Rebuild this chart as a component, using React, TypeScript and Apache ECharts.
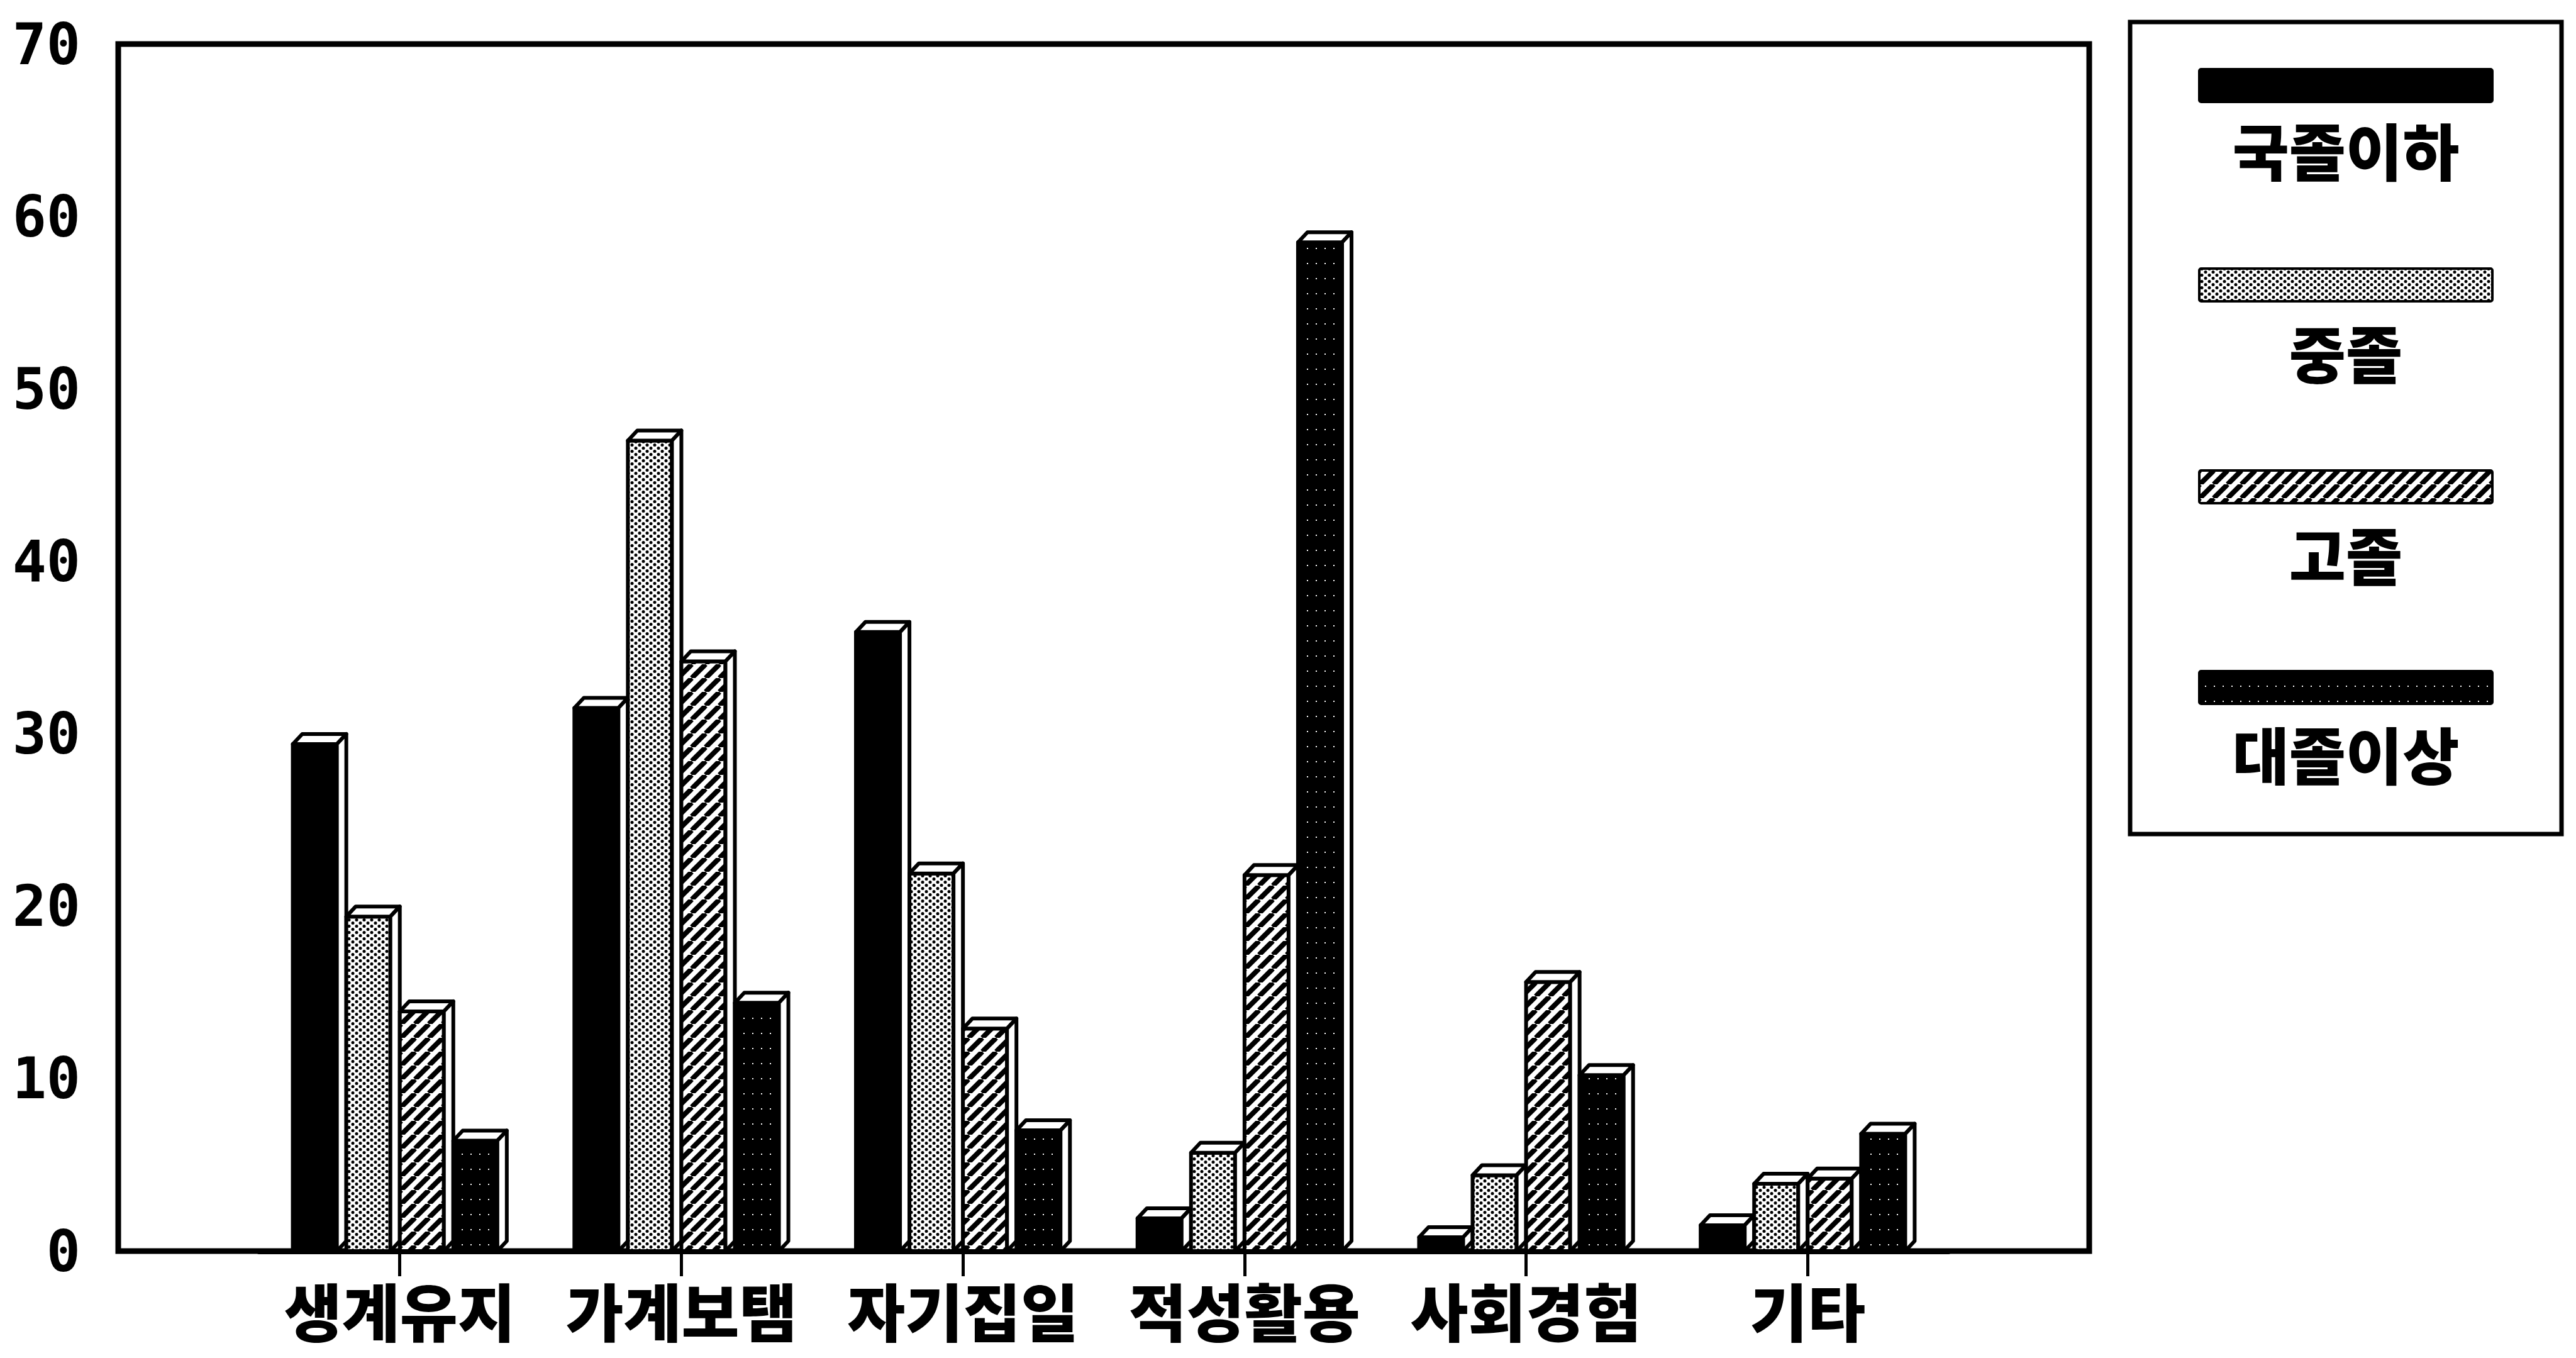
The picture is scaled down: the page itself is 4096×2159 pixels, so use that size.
import React, { useEffect, useRef } from "react";
import * as echarts from "echarts";

// Reasons for working, by education level (%)
const categories = ["생계유지", "가계보탬", "자기집일", "적성활용", "사회경험", "기타"];
const seriesNames = ["국졸이하", "중졸", "고졸", "대졸이상"];
const elementaryOrLess = [29.4, 31.5, 35.9, 1.9, 0.8, 1.5];
const middleSchool = [19.4, 47.0, 21.9, 5.7, 4.4, 3.9];
const highSchool = [13.9, 34.2, 12.9, 21.8, 15.6, 4.2];
const collegeOrMore = [6.4, 14.4, 7.0, 58.5, 10.2, 6.8];
const seriesValues = [elementaryOrLess, middleSchool, highSchool, collegeOrMore];

const yMin = 0;
const yMax = 70;
const yInterval = 10;

const W = 4096;
const H = 2159;

// 3D bar extrusion (pixels)
const DX = 15;
const DY = 16;
const LW = 6;

type Fill = any;

function makeTile(w: number, h: number, draw: (ctx: CanvasRenderingContext2D) => void): Fill {
  const c = document.createElement("canvas");
  c.width = w;
  c.height = h;
  const ctx = c.getContext("2d")!;
  draw(ctx);
  return { image: c.toDataURL(), repeat: "repeat", imageWidth: w, imageHeight: h };
}

function makeFills(): Fill[] {
  const solid = "#000";
  const dots = makeTile(12, 10, (ctx) => {
    ctx.fillStyle = "#fff";
    ctx.fillRect(0, 0, 12, 10);
    ctx.fillStyle = "#000";
    ctx.beginPath();
    ctx.arc(3, 2.5, 2.5, 0, Math.PI * 2);
    ctx.fill();
    ctx.beginPath();
    ctx.arc(9, 7.5, 2.5, 0, Math.PI * 2);
    ctx.fill();
  });
  const hatch = makeTile(22, 22, (ctx) => {
    ctx.fillStyle = "#fff";
    ctx.fillRect(0, 0, 22, 22);
    ctx.strokeStyle = "#000";
    ctx.lineWidth = 8;
    for (const k of [-22, 0, 22]) {
      ctx.beginPath();
      ctx.moveTo(k, 22);
      ctx.lineTo(k + 22, 0);
      ctx.stroke();
    }
  });
  const dark = makeTile(14, 24, (ctx) => {
    ctx.fillStyle = "#000";
    ctx.fillRect(0, 0, 14, 24);
    ctx.fillStyle = "#fff";
    ctx.fillRect(6, 10, 2, 2);
  });
  return [solid, dots, hatch, dark];
}

function makeRenderItem(seriesIdx: number, fill: Fill) {
  return (params: any, api: any) => {
    const cat = api.value(0);
    const val = api.value(1);
    const base = api.coord([cat, 0]);
    const top = api.coord([cat, val]);
    const band = api.size([1, 0])[0];
    const groupW = band * 0.76;
    const pitch = groupW / 4;
    const front = pitch - DX;
    const x0 = base[0] - groupW / 2 + seriesIdx * pitch;
    const x1 = x0 + front;
    const yT = top[1];
    const yB = base[1];
    const edge = { stroke: "#000", lineWidth: LW, lineJoin: "round" };
    return {
      type: "group",
      children: [
        {
          type: "rect",
          shape: { x: x0, y: yT, width: front, height: yB - yT },
          style: { fill, ...edge },
        },
        {
          type: "polygon",
          shape: { points: [[x0, yT], [x0 + DX, yT - DY], [x1 + DX, yT - DY], [x1, yT]] },
          style: { fill: "#fff", ...edge },
        },
        {
          type: "polygon",
          shape: { points: [[x1, yT], [x1 + DX, yT - DY], [x1 + DX, yB - DY], [x1, yB]] },
          style: { fill: "#fff", ...edge },
        },
      ],
    };
  };
}

const koreanFont = "'Noto Sans CJK KR', 'Noto Sans CJK SC', sans-serif";

export default function App() {
  const ref = useRef<HTMLDivElement>(null);

  useEffect(() => {
    document.body.style.margin = "0";
    if (!ref.current) return;
    const chart = echarts.init(ref.current, undefined, { renderer: "svg" });
    const fills = makeFills();

    // Frame and bar area geometry
    const frameLeft = 188;
    const frameRight = 3322;
    const frameTop = 70;
    const frameBottom = 1989;
    const band = (frameRight - frameLeft) / (categories.length + 1);
    const barLeft = frameLeft + band / 2;
    const barRight = frameRight - band / 2;

    // Legend box
    const legX = 3387;
    const legY = 35;
    const legW = 686;
    const legH = 1291;
    const swX = 3497;
    const swW = 466;
    const swH = 52;
    const swTops = [110, 427, 748, 1067];
    const labelYs = [236, 558, 879, 1196];

    const legendChildren: any[] = [
      {
        type: "rect",
        shape: { x: legX, y: legY, width: legW, height: legH },
        style: { fill: "#fff", stroke: "#000", lineWidth: 7 },
      },
    ];
    seriesNames.forEach((name, i) => {
      legendChildren.push({
        type: "rect",
        shape: { x: swX, y: swTops[i], width: swW, height: swH, r: 3 },
        style: { fill: fills[i], stroke: "#000", lineWidth: 4 },
      });
      legendChildren.push({
        type: "text",
        x: swX + swW / 2,
        y: labelYs[i],
        style: {
          text: name,
          fill: "#000",
          font: `900 98px ${koreanFont}`,
          textAlign: "center",
          textVerticalAlign: "middle",
        },
      });
    });

    chart.setOption({
      animation: false,
      backgroundColor: "#fff",
      grid: [
        {
          left: frameLeft,
          right: W - frameRight,
          top: frameTop,
          bottom: H - frameBottom,
          show: true,
          borderColor: "#000",
          borderWidth: 9,
          backgroundColor: "transparent",
        },
        {
          left: barLeft,
          right: W - barRight,
          top: frameTop,
          bottom: H - frameBottom,
        },
      ],
      xAxis: [
        { type: "value", gridIndex: 0, min: 0, max: 1, show: false },
        {
          type: "category",
          gridIndex: 1,
          data: categories,
          axisLine: { show: true, lineStyle: { color: "#000", width: 9 } },
          axisTick: {
            show: true,
            alignWithLabel: true,
            interval: 0,
            length: 40,
            lineStyle: { color: "#000", width: 5 },
          },
          axisLabel: {
            interval: 0,
            margin: 42,
            color: "#000",
            fontFamily: koreanFont,
            fontWeight: 900,
            fontSize: 100,
          },
          splitLine: { show: false },
        },
      ],
      yAxis: [
        {
          type: "value",
          gridIndex: 0,
          min: yMin,
          max: yMax,
          interval: yInterval,
          axisLine: { show: false },
          axisTick: { show: false },
          splitLine: { show: false },
          axisLabel: {
            margin: 60,
            color: "#000",
            fontFamily: "'DejaVu Sans Mono', monospace",
            fontWeight: "bold",
            fontSize: 90,
          },
        },
        {
          type: "value",
          gridIndex: 1,
          min: yMin,
          max: yMax,
          interval: yInterval,
          show: false,
        },
      ],
      series: seriesNames.map((name, i) => ({
        type: "custom",
        name,
        xAxisIndex: 1,
        yAxisIndex: 1,
        clip: false,
        encode: { x: 0, y: 1 },
        data: seriesValues[i].map((v, c) => [c, v]),
        renderItem: makeRenderItem(i, fills[i]),
      })),
      graphic: legendChildren,
    });

    return () => {
      chart.dispose();
    };
  }, []);

  return <div ref={ref} style={{ width: W, height: H }} />;
}
